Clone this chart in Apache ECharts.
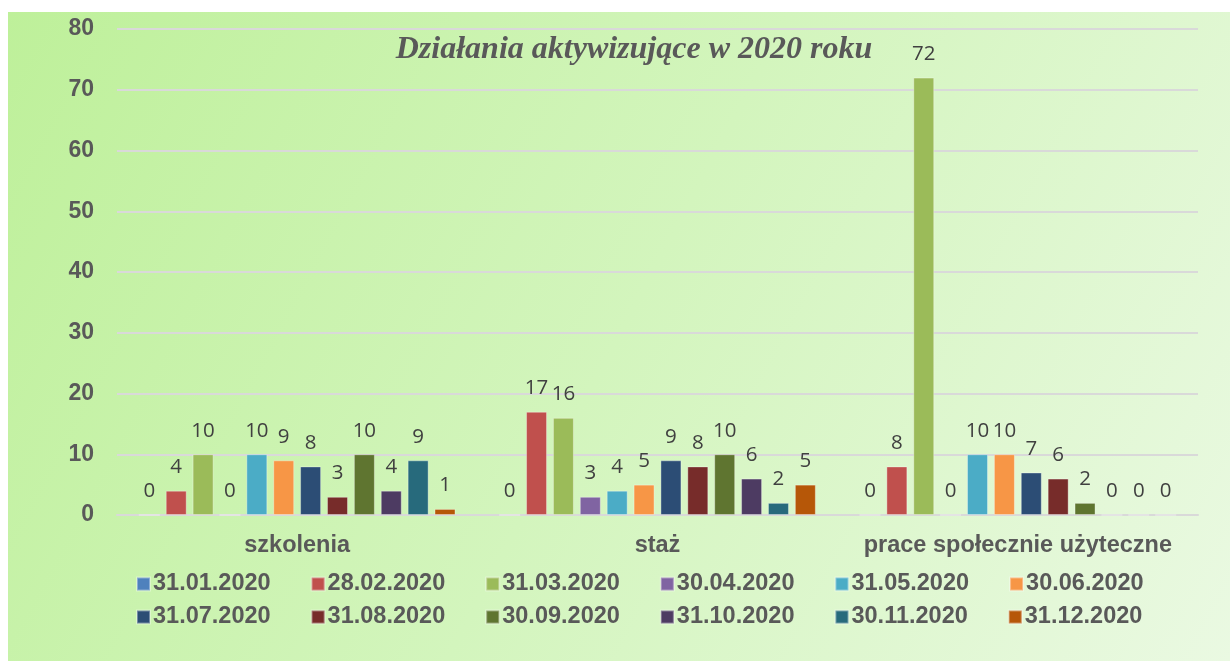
<!DOCTYPE html>
<html>
<head>
<meta charset="utf-8">
<style>
  html, body { margin: 0; padding: 0; background: #ffffff; }
  #chart { width: 1230px; height: 661px; }
</style>
<script src="https://cdn.jsdelivr.net/npm/echarts@6/dist/echarts.min.js"></script>
</head>
<body>
<div id="chart"></div>
<script>
// Activation measures by type, monthly snapshots of 2020
const categories = ['szkolenia', 'staż', 'prace społecznie użyteczne'];
const dates = ['31.01.2020', '28.02.2020', '31.03.2020', '30.04.2020', '31.05.2020', '30.06.2020',
               '31.07.2020', '31.08.2020', '30.09.2020', '31.10.2020', '30.11.2020', '31.12.2020'];
const colors = ['#4f81bd', '#c0504d', '#9bbb59', '#8064a2', '#4bacc6', '#f79646',
                '#2c4d75', '#772c2a', '#5f7530', '#4d3b62', '#276a7c', '#b65708'];
// one array per category, values in date order
const szkolenia = [0, 4, 10, 0, 10, 9, 8, 3, 10, 4, 9, 1];
const staz      = [0, 17, 16, 3, 4, 5, 9, 8, 10, 6, 2, 5];
const prace     = [0, 8, 72, 0, 10, 10, 7, 6, 2, 0, 0, 0];
const yTicks = { min: 0, max: 80, interval: 10 };

const textGray = '#595959';

const series = dates.map((d, i) => ({
  name: d,
  type: 'bar',
  data: [szkolenia[i], staz[i], prace[i]],
  barWidth: 21,
  barGap: '28%',
  itemStyle: { color: colors[i], borderColor: 'rgba(255,255,255,0.35)', borderWidth: 1 },
  label: {
    show: true,
    position: 'top',
    distance: 13,
    color: '#404040',
    fontFamily: 'Open Sans',
    fontSize: 20.5
  }
}));

const legendBase = {
  left: 131,
  icon: 'rect',
  itemWidth: 13,
  itemHeight: 13,
  itemGap: 40,
  textStyle: { color: textGray, fontFamily: 'Liberation Sans', fontWeight: 'bold', fontSize: 23.5, padding: [0, 0, 0, -2] }
};

const chart = echarts.init(document.getElementById('chart'), null, { renderer: 'canvas' });
chart.setOption({
  animation: false,
  color: colors,
  graphic: [{
    type: 'rect',
    z: -10,
    silent: true,
    shape: { x: 8, y: 12, width: 1222, height: 649 },
    style: {
      fill: new echarts.graphic.LinearGradient(0, 0, 1, 1, [
        { offset: 0, color: '#bef09a' },
        { offset: 0.5, color: '#d3f5bd' },
        { offset: 1, color: '#eaf9e2' }
      ])
    }
  }],
  title: {
    text: 'Działania aktywizujące w 2020 roku',
    left: 629,
    textAlign: 'center',
    top: 29,
    textStyle: {
      fontFamily: 'Liberation Serif',
      fontStyle: 'italic',
      fontWeight: 'bold',
      fontSize: 32,
      color: textGray
    }
  },
  legend: [
    Object.assign({}, legendBase, { top: 567, data: dates.slice(0, 6) }),
    Object.assign({}, legendBase, { top: 600, data: dates.slice(6) })
  ],
  grid: { left: 117, right: 32, top: 29, bottom: 146 },
  xAxis: {
    type: 'category',
    data: categories,
    axisLine: { show: true, lineStyle: { color: '#d9d9d9', width: 2 } },
    axisTick: { show: false },
    axisLabel: {
      interval: 0,
      hideOverlap: false,
      color: textGray,
      fontFamily: 'Liberation Sans',
      fontWeight: 'bold',
      fontSize: 23.5,
      margin: 19
    }
  },
  yAxis: {
    type: 'value',
    min: yTicks.min,
    max: yTicks.max,
    interval: yTicks.interval,
    axisLine: { show: false },
    axisTick: { show: false },
    splitLine: { lineStyle: { color: '#d9d9d9', width: 2 } },
    axisLabel: {
      color: textGray,
      fontFamily: 'Liberation Sans',
      fontWeight: 'bold',
      fontSize: 23,
      margin: 23
    }
  },
  series: series
});
</script>
</body>
</html>
